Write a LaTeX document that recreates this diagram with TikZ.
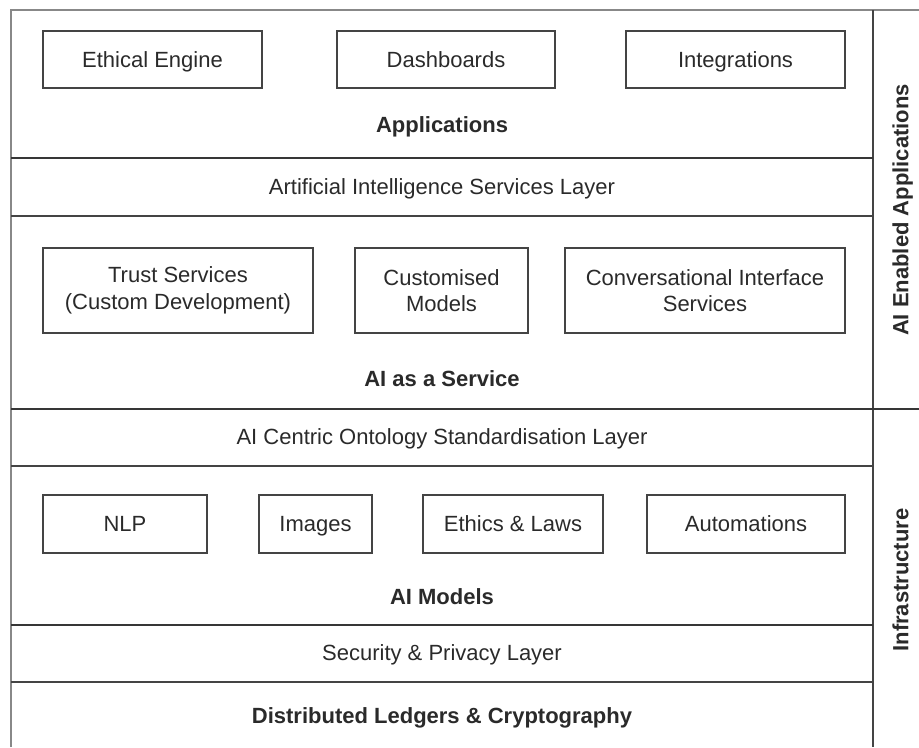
\documentclass[tikz,border=0pt]{standalone}
\usepackage{fontspec}
\setmainfont{Liberation Sans}
\definecolor{ink}{HTML}{2A2A2A}
\definecolor{rule}{HTML}{444444}
\definecolor{frame}{HTML}{888888}
\begin{document}
\begin{tikzpicture}[x=0.75pt,y=-0.75pt,
    txt/.style={text=ink,font=\fontsize{16.5}{20}\selectfont,inner sep=0pt,text height=11.8pt,text depth=0pt},
    head/.style={txt,font=\fontsize{16.5}{20}\selectfont\bfseries},
    box/.style={txt,draw=rule,line width=0.8pt,align=center},
    twoline/.style={text height=,text depth=},
    thick rule/.style={draw=rule!80!black,line width=1.6pt},
    thin rule/.style={draw=rule,line width=0.9pt}]
  \useasboundingbox (0,0) rectangle (919,747);
  % frame and layer rules
  \draw[frame,line width=1pt] (11,747) -- (11,10) -- (919,10);
  \draw[rule,line width=1.2pt] (873,10) -- (873,747);
  \draw[thick rule] (11,158) -- (873,158);
  \draw[thick rule] (11,409) -- (919,409);
  \draw[thick rule] (11,625) -- (873,625);
  \draw[thin rule] (11,216) -- (873,216);
  \draw[thin rule] (11,466) -- (873,466);
  \draw[thin rule] (11,682) -- (873,682);
  % applications
  \draw
    (152.5,59.5) node[box,minimum width=164.25pt,minimum height=42.75pt] (eth){Ethical Engine}
    (446,59.5) node[box,minimum width=163.5pt,minimum height=42.75pt] (dash){Dashboards}
    (735.5,59.5) node[box,minimum width=164.25pt,minimum height=42.75pt] (integ){Integrations}
    (442,124.5) node[head] (apps){Applications}
    (442,186.5) node[txt] (aisl){Artificial Intelligence Services Layer};
  % ai as a service
  \draw
    (178,290.5) node[box,twoline,minimum width=202.5pt,minimum height=63.75pt] (trust){Trust Services\\(Custom Development)}
    (441.5,290.5) node[box,twoline,minimum width=129.75pt,minimum height=63.75pt] (cust){Customised\\Models}
    (705,290.5) node[box,twoline,minimum width=210pt,minimum height=63.75pt] (conv){Conversational Interface\\Services}
    (442,379) node[head] (aaas){AI as a Service}
    (442,437) node[txt] (onto){AI Centric Ontology Standardisation Layer};
  % ai models
  \draw
    (125,524) node[box,minimum width=123pt,minimum height=43.5pt] (nlp){NLP}
    (315.5,524) node[box,minimum width=84.75pt,minimum height=43.5pt] (img){Images}
    (513,524) node[box,minimum width=135pt,minimum height=43.5pt] (laws){Ethics \& Laws}
    (746,524) node[box,minimum width=148.5pt,minimum height=43.5pt] (auto){Automations}
    (442,597) node[head] (models){AI Models}
    (442,653) node[txt] (sec){Security \& Privacy Layer}
    (442,716) node[head] (ledg){Distributed Ledgers \& Cryptography};
  % side labels
  \draw
    (900.5,210) node[head,rotate=90] (aiapps){AI Enabled Applications}
    (900.5,580) node[head,rotate=90] (infra){Infrastructure};
\end{tikzpicture}
\end{document}
